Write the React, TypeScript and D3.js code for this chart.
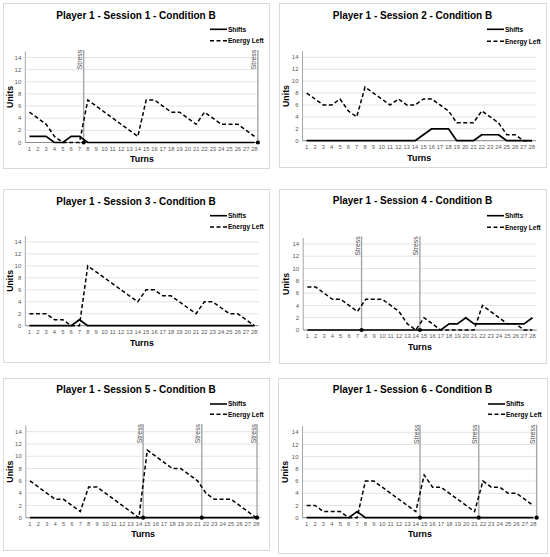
import React from "react";
import * as d3 from "d3";

// ---------- DATA ----------
const turns = d3.range(1, 29);
const yTicks = [0, 2, 4, 6, 8, 10, 12, 14];
const sessionTitles = [
  "Player 1 - Session 1 - Condition B",
  "Player 1 - Session 2 - Condition B",
  "Player 1 - Session 3 - Condition B",
  "Player 1 - Session 4 - Condition B",
  "Player 1 - Session 5 - Condition B",
  "Player 1 - Session 6 - Condition B",
];
const shifts1 = [1, 1, 1, 0, 0, 1, 1, 0, 0, 0, 0, 0, 0, 0, 0, 0, 0, 0, 0, 0, 0, 0, 0, 0, 0, 0, 0, 0];
const energy1 = [5, 4, 3, 1, 0, 0, 0, 7, 6, 5, 4, 3, 2, 1, 7, 7, 6, 5, 5, 4, 3, 5, 4, 3, 3, 3, 2, 1];
const shifts2 = [0, 0, 0, 0, 0, 0, 0, 0, 0, 0, 0, 0, 0, 0, 1, 2, 2, 2, 0, 0, 0, 1, 1, 1, 0, 0, 0, 0];
const energy2 = [8, 7, 6, 6, 7, 5, 4, 9, 8, 7, 6, 7, 6, 6, 7, 7, 6, 5, 3, 3, 3, 5, 4, 3, 1, 1, 0, 0];
const shifts3 = [0, 0, 0, 0, 0, 0, 1, 0, 0, 0, 0, 0, 0, 0, 0, 0, 0, 0, 0, 0, 0, 0, 0, 0, 0, 0, 0, 0];
const energy3 = [2, 2, 2, 1, 1, 0, 0, 10, 9, 8, 7, 6, 5, 4, 6, 6, 5, 5, 4, 3, 2, 4, 4, 3, 2, 2, 1, 0];
const shifts4 = [0, 0, 0, 0, 0, 0, 0, 0, 0, 0, 0, 0, 0, 0, 0, 0, 0, 1, 1, 2, 1, 1, 1, 1, 1, 1, 1, 2];
const energy4 = [7, 7, 6, 5, 5, 4, 3, 5, 5, 5, 4, 3, 1, 0, 2, 1, 0, 0, 0, 0, 0, 4, 3, 2, 1, 1, 0, 0];
const shifts5 = [0, 0, 0, 0, 0, 0, 0, 0, 0, 0, 0, 0, 0, 0, 0, 0, 0, 0, 0, 0, 0, 0, 0, 0, 0, 0, 0, 0];
const energy5 = [6, 5, 4, 3, 3, 2, 1, 5, 5, 4, 3, 2, 1, 0, 11, 10, 9, 8, 8, 7, 6, 4, 3, 3, 3, 2, 1, 0];
const shifts6 = [0, 0, 0, 0, 0, 0, 1, 0, 0, 0, 0, 0, 0, 0, 0, 0, 0, 0, 0, 0, 0, 0, 0, 0, 0, 0, 0, 0];
const energy6 = [2, 2, 1, 1, 1, 0, 0, 6, 6, 5, 4, 3, 2, 1, 7, 5, 5, 4, 3, 2, 1, 6, 5, 5, 4, 4, 3, 2];
// stress events, on the turn axis (between turns)
const stress1 = [7.5, 28.4];
const stress2: number[] = [];
const stress3: number[] = [];
const stress4 = [7.5, 14.5];
const stress5 = [14.5, 21.5, 28.1];
const stress6 = [14.5, 21.5, 28.4];

const shiftsAll = [shifts1, shifts2, shifts3, shifts4, shifts5, shifts6];
const energyAll = [energy1, energy2, energy3, energy4, energy5, energy6];
const stressAll = [stress1, stress2, stress3, stress4, stress5, stress6];

// ---------- LAYOUT ----------
type Layout = {
  bx0: number; bx1: number; by0: number; by1: number;
  titleY: number; leg1: number; leg2: number;
  pl: number; pr: number; y0: number; y14: number; turnsY: number;
};
const layouts: Layout[] = [
  { bx0: 3, bx1: 269, by0: 3, by1: 168, titleY: 15, leg1: 29.3, leg2: 40.7, pl: 25.3, pr: 258.7, y0: 142.5, y14: 57.5, turnsY: 159.3 },
  { bx0: 279, bx1: 546, by0: 3, by1: 167, titleY: 15, leg1: 29.3, leg2: 41.3, pl: 302.5, pr: 536, y0: 140.7, y14: 57.3, turnsY: 157.7 },
  { bx0: 3, bx1: 269, by0: 189, by1: 362, titleY: 201.7, leg1: 215.7, leg2: 227, pl: 25.3, pr: 258.5, y0: 325.7, y14: 242, turnsY: 343 },
  { bx0: 279, bx1: 546, by0: 189, by1: 363, titleY: 200.7, leg1: 215.7, leg2: 227.3, pl: 303.2, pr: 536.6, y0: 330, y14: 244, turnsY: 347.3 },
  { bx0: 3, bx1: 269, by0: 378, by1: 550, titleY: 389.3, leg1: 404, leg2: 414.3, pl: 25.8, pr: 260.4, y0: 517.7, y14: 431.7, turnsY: 534.3 },
  { bx0: 278, bx1: 547, by0: 378, by1: 553, titleY: 389, leg1: 404, leg2: 414.3, pl: 302.5, pr: 537.5, y0: 517.7, y14: 432.3, turnsY: 534.3 },
];

const FONT = "'Liberation Sans', Arial, Helvetica, sans-serif";

function Panel({ i }: { i: number }) {
  const L = layouts[i];
  const shifts = shiftsAll[i];
  const energy = energyAll[i];
  const stress = stressAll[i];

  const band = d3.scaleBand<number>().domain(turns).range([L.pl, L.pr]).paddingInner(0).paddingOuter(0);
  const xc = (t: number) => (band(t) as number) + band.bandwidth() / 2;
  const xs = d3.scaleLinear().domain([1, 28]).range([xc(1), xc(28)]);
  const y = d3.scaleLinear().domain([0, 14]).range([L.y0, L.y14]);
  const yTop = y(15);

  const line = d3.line<number>().x((_, k) => xc(turns[k])).y((d) => y(d));
  const cx = (L.bx0 + L.bx1) / 2;
  const px = (L.pl + L.pr) / 2;

  return (
    <g>
      <rect x={L.bx0 + 0.5} y={L.by0 + 0.5} width={L.bx1 - L.bx0} height={L.by1 - L.by0} fill="#fff" stroke="#d9d9d9" strokeWidth={1} />
      <text x={cx} y={L.titleY + 3.6} textAnchor="middle" fontFamily={FONT} fontWeight="bold" fontSize={10} fill="#000">
        {sessionTitles[i]}
      </text>
      {/* legend */}
      <line x1={L.bx1 - 59} x2={L.bx1 - 42} y1={L.leg1} y2={L.leg1} stroke="#000" strokeWidth={1.6} />
      <text x={L.bx1 - 41} y={L.leg1 + 2.3} fontFamily={FONT} fontWeight="bold" fontSize={6.5} fill="#000">Shifts</text>
      <line x1={L.bx1 - 59} x2={L.bx1 - 42} y1={L.leg2} y2={L.leg2} stroke="#000" strokeWidth={1.5} strokeDasharray="4,2.5" />
      <text x={L.bx1 - 41} y={L.leg2 + 2.3} fontFamily={FONT} fontWeight="bold" fontSize={6.5} fill="#000">Energy Left</text>
      {/* gridlines */}
      {yTicks.map((v) => (
        <line key={"g" + v} x1={L.pl} x2={L.pr} y1={y(v)} y2={y(v)} stroke="#e4e4e4" strokeWidth={1} />
      ))}
      {/* y axis */}
      <line x1={L.pl} x2={L.pl} y1={yTop} y2={L.y0} stroke="#a6a6a6" strokeWidth={1} />
      {yTicks.map((v) => (
        <text key={"yt" + v} x={L.pl - 4} y={y(v) + 2.1} textAnchor="end" fontFamily={FONT} fontSize={6} fill="#595959">{v}</text>
      ))}
      {turns.map((t) => (
        <text key={"xt" + t} x={xc(t)} y={L.y0 + 8.2} textAnchor="middle" fontFamily={FONT} fontSize={5.8} fill="#595959">{t}</text>
      ))}
      <line x1={L.pl} x2={L.pr} y1={L.y0} y2={L.y0} stroke="#8c8c8c" strokeWidth={1} />
      {/* axis titles */}
      <text transform={`translate(${L.bx0 + 7.3},${(L.y0 + yTop) / 2}) rotate(-90)`} textAnchor="middle" dy="0.35em" fontFamily={FONT} fontWeight="bold" fontSize={8.8} fill="#000">Units</text>
      <text x={px} y={L.turnsY + 3.1} textAnchor="middle" fontFamily={FONT} fontWeight="bold" fontSize={8.8} fill="#000">Turns</text>
      {/* stress markers */}
      {stress.map((s) => (
        <g key={"s" + s}>
          <line x1={xs(s)} x2={xs(s)} y1={yTop - 1.5} y2={L.y0} stroke="#a6a6a6" strokeWidth={1.4} />
          <text transform={`translate(${xs(s) - 1.5},${yTop - 1.5}) rotate(-90)`} textAnchor="end" fontFamily={FONT} fontSize={6.8} fill="#4d4d4d">Stress</text>
        </g>
      ))}
      {/* series */}
      <path d={line(energy) as string} fill="none" stroke="#000" strokeWidth={1.5} strokeDasharray="4,2.5" />
      <path d={line(shifts) as string} fill="none" stroke="#000" strokeWidth={1.7} strokeLinejoin="round" />
      {stress.map((s) => (
        <circle key={"d" + s} cx={xs(s)} cy={L.y0} r={2.1} fill="#000" />
      ))}
    </g>
  );
}

export default function App() {
  return (
    <svg width={550} height={557} style={{ display: "block", position: "absolute", left: 0, top: 0 }}>
      <rect x={0} y={0} width={550} height={557} fill="#fff" />
      {layouts.map((_, i) => (
        <Panel key={i} i={i} />
      ))}
    </svg>
  );
}
